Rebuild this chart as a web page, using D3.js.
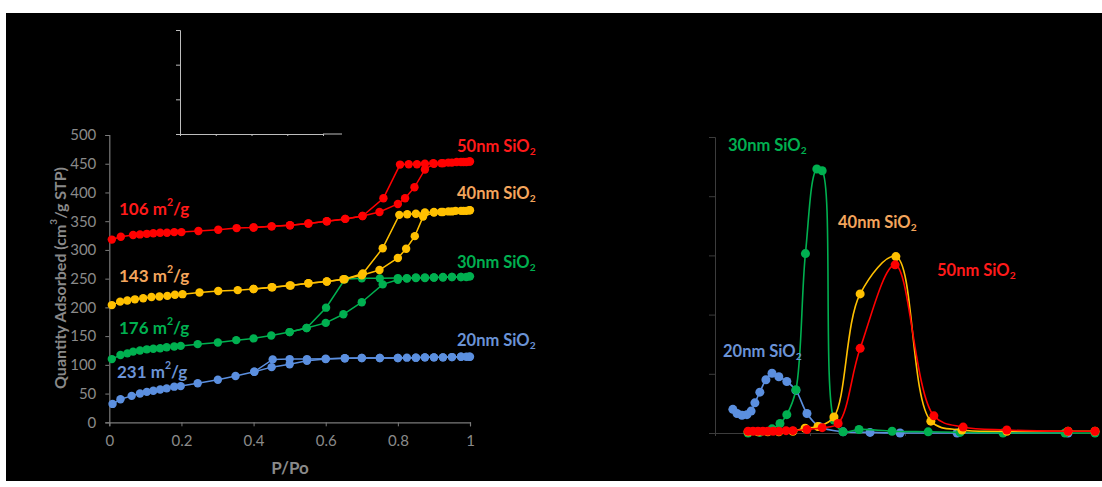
<!DOCTYPE html>
<html>
<head>
<meta charset="utf-8">
<script src="https://cdn.jsdelivr.net/npm/d3@7"></script>
<style>
  html, body { margin: 0; padding: 0; background: #ffffff; }
  svg { display: block; }
  text { font-family: Lato, "Open Sans", "DejaVu Sans", sans-serif; }
</style>
</head>
<body>
<svg id="chart" width="1102" height="487"></svg>
<script>
// ---------- Sample names and BET surface areas ----------
const samples = ["20nm", "30nm", "40nm", "50nm"];
const surfaceAreas = [231, 176, 143, 106];

// ---------- N2 isotherms: relative pressure P/Po and quantity adsorbed (cm3/g STP) ----------
const p20Ads = [0.009,0.031,0.062,0.085,0.104,0.122,0.141,0.159,0.180,0.198,0.245,0.301,0.350,0.402,0.450,0.500,0.548,0.600,0.653,0.700,0.750,0.800,0.825,0.850,0.875,0.900,0.925,0.950,0.975,0.990,1.000];
const q20Ads = [32,40,46,50,53,55,57,59,62,63,68,74,80.5,88,96,101,107,110,111.5,112,112,112,112.5,112.5,113,113,113,113.5,114,114,114];
const p20Des = [0.998,0.975,0.950,0.925,0.900,0.875,0.850,0.800,0.750,0.700,0.653,0.600,0.548,0.500,0.453,0.402];
const q20Des = [114,114,113.5,113,113,113,112.5,112,112,112,111.5,110.5,110,110,109.5,88];

const p30Ads = [0.007,0.031,0.050,0.066,0.085,0.104,0.122,0.141,0.159,0.180,0.198,0.245,0.301,0.352,0.400,0.449,0.500,0.547,0.600,0.649,0.700,0.758,0.800,0.825,0.850,0.875,0.900,0.925,0.950,0.975,0.990,1.000];
const q30Ads = [110,117,120,123,125,127,128,129,130.5,132,133,136,139,143,146,151,157,164,173,188,209,240,248,250,251,251,252,252,253,253,253,254];
const p30Des = [0.998,0.975,0.950,0.925,0.900,0.875,0.850,0.825,0.800,0.750,0.700,0.653,0.601,0.547,0.500];
const q30Des = [254,253,253,253,252,252,252,251,251,250.5,250.5,249,199.5,164,157];

const p40Ads = [0.007,0.030,0.050,0.071,0.094,0.117,0.139,0.161,0.182,0.203,0.250,0.302,0.356,0.400,0.452,0.503,0.552,0.603,0.649,0.700,0.749,0.800,0.823,0.847,0.870,0.900,0.925,0.950,0.975,0.990,1.000];
const q40Ads = [204,210,212,214,216,218,219,220,222,223,226,228.5,230,232,235,238,242,245,249,256,265,286,302,324,358,365,366,367,368,368,369];
const p40Des = [0.998,0.982,0.960,0.940,0.920,0.900,0.875,0.850,0.826,0.804,0.758,0.703,0.652,0.603,0.552,0.500,0.450,0.400];
const q40Des = [369,368,368,367,366,366,365,363,362,361,303,259,249,245,242,238,235,232];

const p50Ads = [0.007,0.032,0.066,0.085,0.104,0.122,0.141,0.160,0.180,0.200,0.247,0.302,0.353,0.400,0.450,0.501,0.552,0.603,0.654,0.702,0.749,0.800,0.820,0.846,0.875,0.900,0.925,0.950,0.975,0.990,1.000];
const q50Ads = [318,323,326,327,328,329,330,330,331,331,333,335,338,339,341,343,346,350,354,359,366,380,390,409,440,450,451,452,453,453,454];
const p50Des = [0.998,0.982,0.963,0.940,0.921,0.898,0.875,0.853,0.830,0.806,0.760,0.702,0.654,0.603,0.552,0.501,0.450,0.400];
const q50Des = [454,453,453,452,451,451,450,449,449,448.5,390,359,354,350,346,343,341,339];

// ---------- Pore size distributions: pore width (nm) and dV/dlog(D) ----------
const d20 = [4.7,5.8,7.1,8.4,9.5,10.5,11.8,13.4,15.0,16.8,18.9,21.3,24.2,27.4,33.7,40.8,48.7,63.7,92.9];
const v20 = [0.40,0.33,0.30,0.31,0.37,0.51,0.69,0.90,1.01,0.95,0.87,0.72,0.33,0.11,0.02,0.01,0.00,0.00,0.00];

const d30 = [8.7,11.8,15.0,17.1,18.9,21.3,23.8,26.8,28.2,31.3,33.7,37.9,46.6,56.1,64.5,75.8,92.1,100];
const v30 = [0.00,0.01,0.07,0.16,0.31,0.73,3.03,4.46,4.43,0.22,0.02,0.06,0.03,0.02,0.01,0.00,0.00,0.00];

const d40 = [8.7,11.3,13.9,16.8,20.5,23.7,27.1,31.3,38.2,47.6,56.8,65.0,76.8,92.9,100];
const v40 = [0.02,0.02,0.02,0.02,0.03,0.08,0.11,0.27,2.35,2.98,0.20,0.05,0.03,0.03,0.03];

const d50 = [8.7,10.0,11.3,12.6,13.9,15.3,16.8,18.7,20.5,24.2,28.2,32.4,38.2,47.4,57.6,65.3,76.8,92.9,100];
const v50 = [0.03,0.03,0.03,0.03,0.03,0.03,0.03,0.04,0.04,0.06,0.09,0.16,1.43,2.84,0.29,0.10,0.05,0.03,0.03];

// ---------- Axis ticks ----------
const isoXTicks = [0, 0.2, 0.4, 0.6, 0.8, 1];
const isoYTicks = [0, 50, 100, 150, 200, 250, 300, 350, 400, 450, 500];
const psdXTicks = [0, 25, 50, 75, 100];
const psdYTicks = [0, 1, 2, 3, 4, 5];

// ---------- Styling ----------
const lineColors  = { "20nm": "#5b8fdf", "30nm": "#00b050", "40nm": "#ffc000", "50nm": "#ff0000" };
const labelColors = { "20nm": "#6b93d6", "30nm": "#00b050", "40nm": "#f4a55c", "50nm": "#ff1a1a" };
const axisGrey = "#7a7a7a";
const textGrey = "#8a8a8a";

const svg = d3.select("#chart");

// black panel
svg.append("rect").attr("x", 6).attr("y", 13).attr("width", 1096).attr("height", 468).attr("fill", "#000");

const zip = (xs, ys) => xs.map((x, i) => [x, ys[i]]);

// rich text helper: parts are [string, "n" | "sup" | "sub" | "n-after-sup"]
function richText(g, x, y, parts, color, size) {
  const t = g.append("text")
    .attr("x", x).attr("y", y)
    .attr("fill", color)
    .attr("font-size", size)
    .attr("font-weight", "bold")
    .attr("dominant-baseline", "central");
  parts.forEach(([s, kind]) => {
    const ts = t.append("tspan").text(s);
    if (kind === "sup") ts.attr("font-size", size * 0.62).attr("dy", -size * 0.38);
    if (kind === "sub") ts.attr("font-size", size * 0.62).attr("dy", size * 0.3);
    if (kind === "n-after-sup") ts.attr("dy", size * 0.38);
  });
  return t;
}

// ================= Left panel: isotherms =================
const xIso = d3.scaleLinear().domain([0, 1]).range([109.3, 470]);
const yIso = d3.scaleLinear().domain([0, 500]).range([422.3, 135]);

const isoG = svg.append("g");

const xAxisIso = isoG.append("g")
  .attr("transform", `translate(0,${yIso(0)})`)
  .call(d3.axisBottom(xIso).tickValues(isoXTicks).tickSize(4).tickPadding(9)
    .tickFormat(d => (d === 0 || d === 1) ? String(d) : d.toFixed(1)));
const yAxisIso = isoG.append("g")
  .attr("transform", `translate(${xIso(0)},0)`)
  .call(d3.axisLeft(yIso).tickValues(isoYTicks).tickSize(4).tickPadding(9));

[xAxisIso, yAxisIso].forEach(a => {
  a.select(".domain").attr("stroke", axisGrey).attr("stroke-width", 1.2);
  a.selectAll(".tick line").attr("stroke", axisGrey);
  a.selectAll(".tick text").attr("fill", textGrey).attr("font-size", 15)
    .attr("font-family", "Lato, 'Open Sans', sans-serif");
});

// axis titles
isoG.append("text")
  .attr("x", 290).attr("y", 467)
  .attr("text-anchor", "middle").attr("dominant-baseline", "central")
  .attr("fill", textGrey).attr("font-size", 17).attr("font-weight", "bold")
  .text("P/Po");

const yTitle = isoG.append("text")
  .attr("transform", "translate(59,278) rotate(-90)")
  .attr("text-anchor", "middle").attr("dominant-baseline", "central")
  .attr("fill", textGrey).attr("font-size", 16).attr("font-weight", "bold");
yTitle.append("tspan").text("Quantity Adsorbed (cm");
yTitle.append("tspan").text("3").attr("font-size", 10).attr("dy", -6);
yTitle.append("tspan").text("/g STP)").attr("dy", 6);

// small empty axis frame above the isotherms
const insetX = d3.scaleLinear().domain([0, 4]).range([180, 323]);
const insetY = d3.scaleLinear().domain([0, 3]).range([134, 30]);
const insetG = svg.append("g");
const insetXAxis = insetG.append("g").attr("transform", "translate(0,134)")
  .call(d3.axisBottom(insetX).ticks(4).tickSize(2).tickFormat(""));
insetG.append("line").attr("x1", 323).attr("x2", 342).attr("y1", 134).attr("y2", 134)
  .attr("stroke", "#bdbdbd");
const insetYAxis = insetG.append("g").attr("transform", "translate(180,0)")
  .call(d3.axisLeft(insetY).ticks(3).tickSize(4).tickFormat(""));
[insetXAxis, insetYAxis].forEach(a => {
  a.select(".domain").attr("stroke", "#bdbdbd");
  a.selectAll(".tick line").attr("stroke", "#bdbdbd");
});

const isoLine = d3.line().x(d => xIso(d[0])).y(d => yIso(d[1]));

const isotherms = [
  { key: "20nm", ads: zip(p20Ads, q20Ads), des: zip(p20Des, q20Des) },
  { key: "30nm", ads: zip(p30Ads, q30Ads), des: zip(p30Des, q30Des) },
  { key: "40nm", ads: zip(p40Ads, q40Ads), des: zip(p40Des, q40Des) },
  { key: "50nm", ads: zip(p50Ads, q50Ads), des: zip(p50Des, q50Des) }
];

isotherms.forEach(s => {
  const g = isoG.append("g");
  [s.ads, s.des].forEach(branch => {
    g.append("path").attr("d", isoLine(branch))
      .attr("fill", "none").attr("stroke", lineColors[s.key]).attr("stroke-width", 1.5);
  });
  g.selectAll("circle").data(s.ads.concat(s.des)).join("circle")
    .attr("cx", d => xIso(d[0])).attr("cy", d => yIso(d[1])).attr("r", 4.2)
    .attr("fill", lineColors[s.key]);
});

// series labels on the isotherm panel
const isoNameLayout = { "50nm": [457, 146], "40nm": [457, 193], "30nm": [457, 262], "20nm": [457, 340] };
const isoAreaLayout = { "50nm": [119, 208], "40nm": [119, 275], "30nm": [119, 327], "20nm": [117, 371] };
samples.forEach((name, i) => {
  const [nx, ny] = isoNameLayout[name];
  richText(svg, nx, ny, [[name + " SiO", "n"], ["2", "sub"]], labelColors[name], 16.5);
  const [ax, ay] = isoAreaLayout[name];
  richText(svg, ax, ay, [[surfaceAreas[i] + " m", "n"], ["2", "sup"], ["/g", "n-after-sup"]], labelColors[name], 17);
});

// ================= Right panel: pore size distributions =================
const xPsd = d3.scaleLinear().domain([0, 100]).range([715, 1095]);
const yPsd = d3.scaleLinear().domain([0, 5]).range([433, 137]);

const psdG = svg.append("g");
const xAxisPsd = psdG.append("g").attr("transform", `translate(0,${yPsd(0)})`)
  .call(d3.axisBottom(xPsd).tickValues(psdXTicks).tickSize(3).tickFormat(""));
const yAxisPsd = psdG.append("g").attr("transform", `translate(${xPsd(0)},0)`)
  .call(d3.axisLeft(yPsd).tickValues(psdYTicks).tickSize(6).tickFormat(""));
[xAxisPsd, yAxisPsd].forEach(a => {
  a.select(".domain").attr("stroke", "#3c3c3c");
  a.selectAll(".tick line").attr("stroke", "#3c3c3c");
});

const psdLine = d3.line().x(d => xPsd(d[0])).y(d => yPsd(d[1])).curve(d3.curveCatmullRom.alpha(0.5));

const psd = [
  { key: "20nm", pts: zip(d20, v20) },
  { key: "30nm", pts: zip(d30, v30) },
  { key: "40nm", pts: zip(d40, v40) },
  { key: "50nm", pts: zip(d50, v50) }
];
psd.forEach(s => {
  const g = psdG.append("g");
  g.append("path").attr("d", psdLine(s.pts))
    .attr("fill", "none").attr("stroke", lineColors[s.key]).attr("stroke-width", 1.6);
  g.selectAll("circle").data(s.pts).join("circle")
    .attr("cx", d => xPsd(d[0])).attr("cy", d => yPsd(d[1])).attr("r", 4.5)
    .attr("fill", lineColors[s.key]);
});

const psdNameLayout = { "30nm": [728, 145], "40nm": [838, 222], "50nm": [937, 270], "20nm": [723, 351] };
samples.forEach(name => {
  const [nx, ny] = psdNameLayout[name];
  richText(svg, nx, ny, [[name + " SiO", "n"], ["2", "sub"]], labelColors[name], 16.5);
});
</script>
</body>
</html>
